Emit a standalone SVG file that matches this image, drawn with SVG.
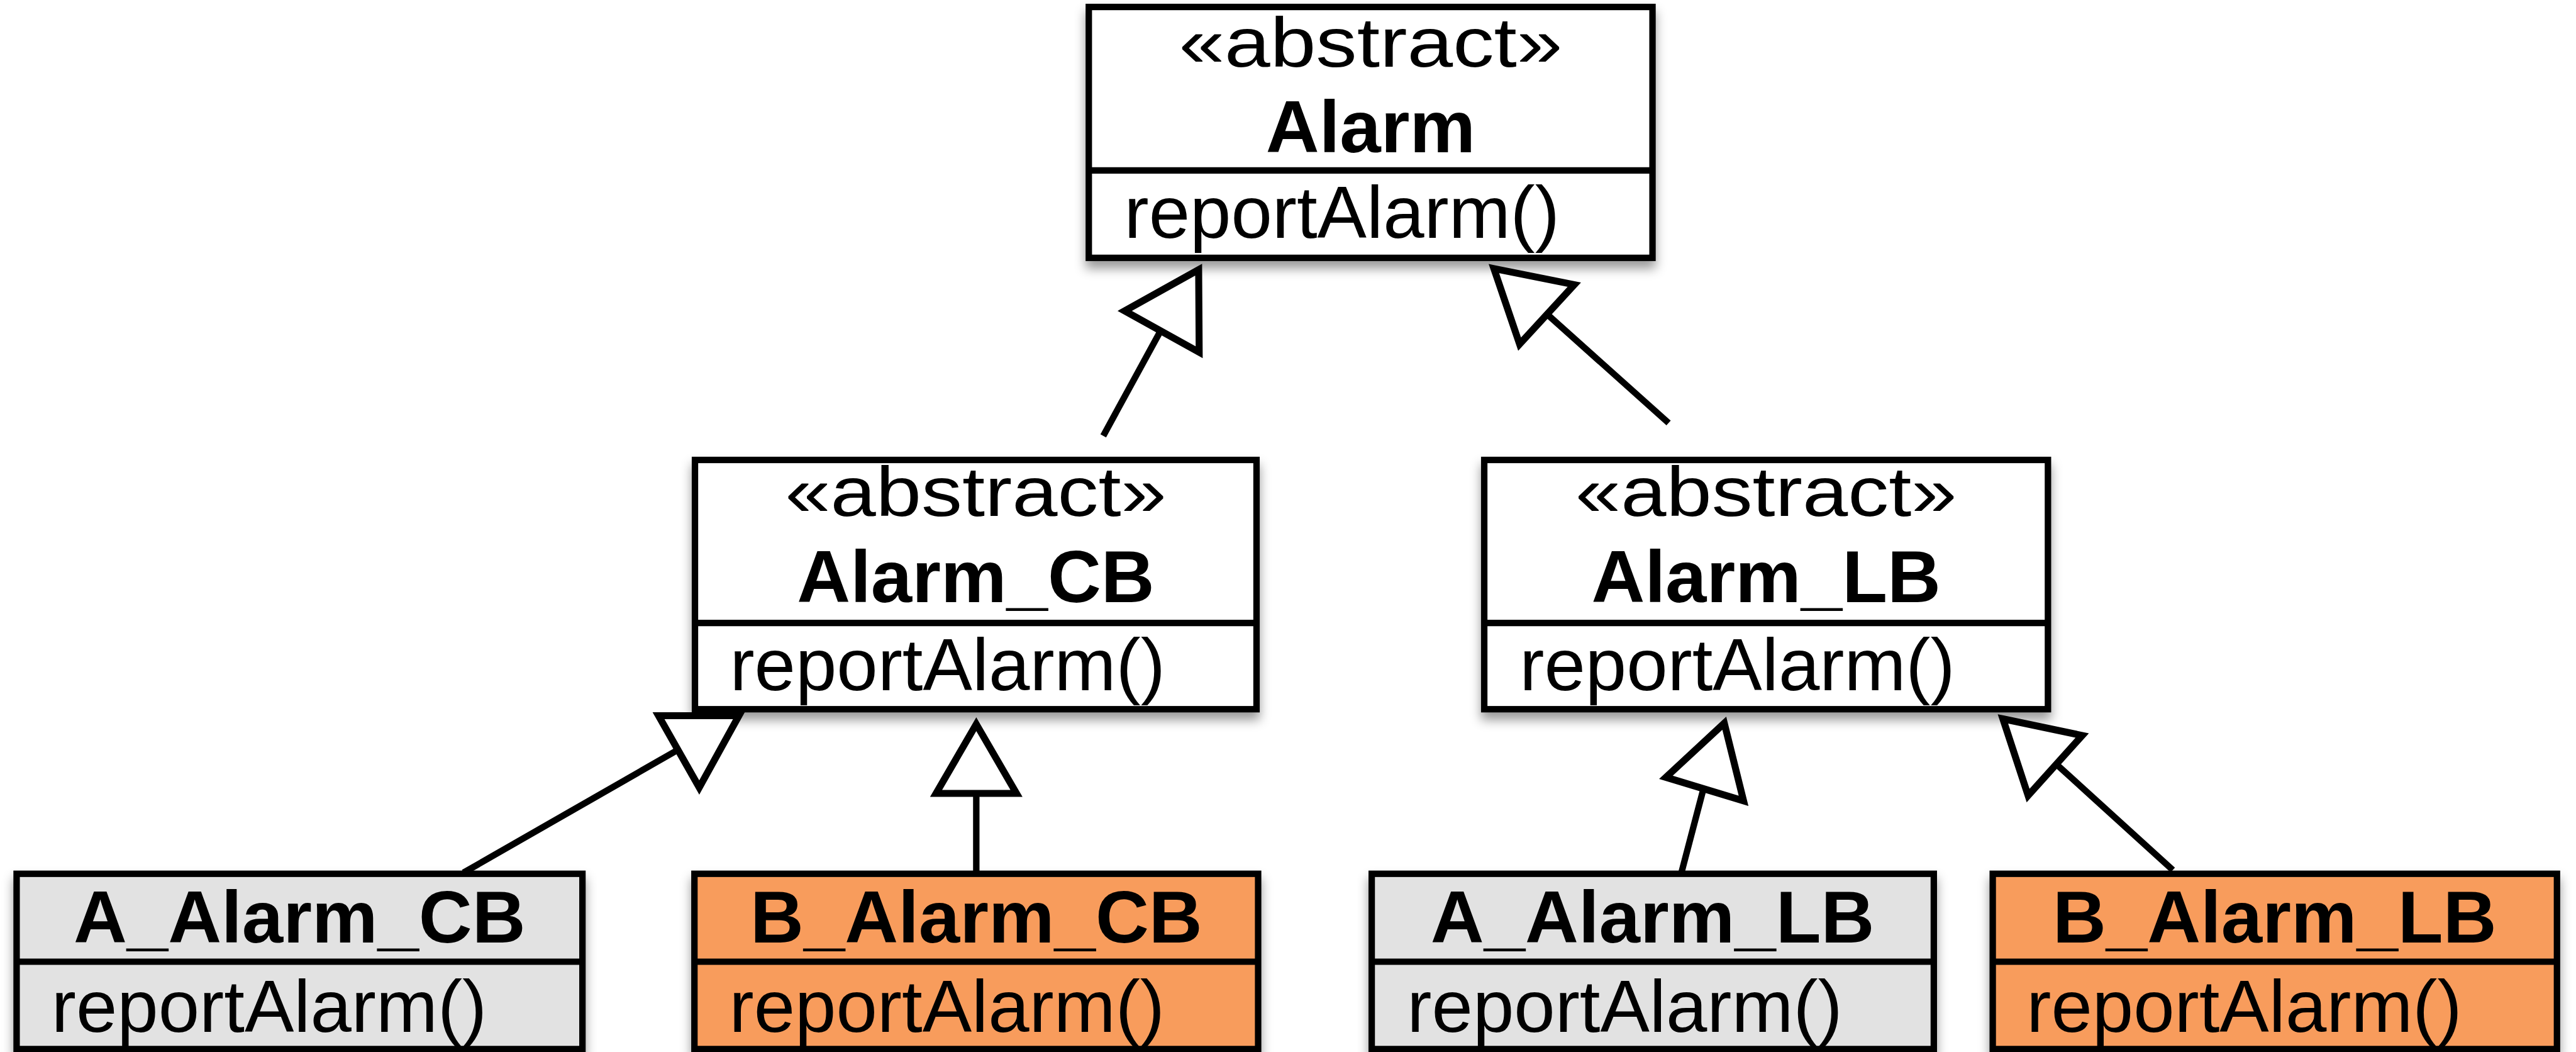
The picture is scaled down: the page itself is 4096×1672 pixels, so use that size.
<svg xmlns="http://www.w3.org/2000/svg" width="4096" height="1672" viewBox="0 0 4096 1672">
<defs>
<filter id="sh" x="-10%" y="-10%" width="120%" height="130%">
<feDropShadow dx="0" dy="14" stdDeviation="10" flood-color="#000" flood-opacity="0.4"/>
</filter>
<style>
.box{stroke:#000;stroke-width:12}
.dv{stroke:#000;stroke-width:12}
.w{fill:#fff}
.g{fill:#e2e2e2}
.o{fill:#f89c5c}
.st{font-family:"Liberation Sans",Arial,sans-serif;font-size:130px;text-anchor:middle;fill:#000}
.nm{font-family:"Liberation Sans",Arial,sans-serif;font-size:138px;font-weight:bold;text-anchor:middle;fill:#000}
.op{font-family:"Liberation Sans",Arial,sans-serif;font-size:138px;fill:#000}
.conn line{stroke:#000;stroke-width:12}
.conn polygon{fill:#fff;stroke:#000;stroke-width:13;stroke-linejoin:miter}
</style>
</defs>
<rect width="4096" height="1672" fill="#fff"/>
<g transform="scale(0.852)">
<g id="Alarm">
<rect class="box w" x="2032" y="13" width="1052" height="468" filter="url(#sh)"/>
<line class="dv" x1="2032" y1="318" x2="3084" y2="318"/>
<text class="st" x="2558" y="124" textLength="716" lengthAdjust="spacingAndGlyphs">«abstract»</text>
<text class="nm" x="2558" y="284">Alarm</text>
<text class="op" x="2098" y="444">reportAlarm()</text>
</g>
<g id="Alarm_CB">
<rect class="box w" x="1297" y="858" width="1048" height="465" filter="url(#sh)"/>
<line class="dv" x1="1297" y1="1162" x2="2345" y2="1162"/>
<text class="st" x="1821" y="963" textLength="712" lengthAdjust="spacingAndGlyphs">«abstract»</text>
<text class="nm" x="1821" y="1123">Alarm_CB</text>
<text class="op" x="1362" y="1288">reportAlarm()</text>
</g>
<g id="Alarm_LB">
<rect class="box w" x="2770" y="858" width="1052" height="465" filter="url(#sh)"/>
<line class="dv" x1="2770" y1="1162" x2="3822" y2="1162"/>
<text class="st" x="3296" y="963" textLength="712" lengthAdjust="spacingAndGlyphs">«abstract»</text>
<text class="nm" x="3296" y="1123">Alarm_LB</text>
<text class="op" x="2836" y="1288">reportAlarm()</text>
</g>
<g id="A_Alarm_CB">
<rect class="box g" x="31" y="1630" width="1056" height="327" filter="url(#sh)"/>
<line class="dv" x1="31" y1="1794" x2="1087" y2="1794"/>
<text class="nm" x="559" y="1758">A_Alarm_CB</text>
<text class="op" x="96" y="1925">reportAlarm()</text>
</g>
<g id="B_Alarm_CB">
<rect class="box o" x="1296" y="1630" width="1052" height="327" filter="url(#sh)"/>
<line class="dv" x1="1296" y1="1794" x2="2348" y2="1794"/>
<text class="nm" x="1822" y="1758">B_Alarm_CB</text>
<text class="op" x="1361" y="1925">reportAlarm()</text>
</g>
<g id="A_Alarm_LB">
<rect class="box g" x="2560" y="1630" width="1049" height="327" filter="url(#sh)"/>
<line class="dv" x1="2560" y1="1794" x2="3609" y2="1794"/>
<text class="nm" x="3084" y="1758">A_Alarm_LB</text>
<text class="op" x="2626" y="1925">reportAlarm()</text>
</g>
<g id="B_Alarm_LB">
<rect class="box o" x="3719" y="1630" width="1053" height="327" filter="url(#sh)"/>
<line class="dv" x1="3719" y1="1794" x2="4772" y2="1794"/>
<text class="nm" x="4245" y="1758">B_Alarm_LB</text>
<text class="op" x="3782" y="1925">reportAlarm()</text>
</g>
<g id="connectors" class="conn">
<line x1="2059" y1="813" x2="2166" y2="617"/>
<polygon points="2237,503 2099,580 2238,657"/>
<line x1="3114" y1="789" x2="2886" y2="585"/>
<polygon points="2788,501 2938,531 2836,642"/>
<line x1="865" y1="1628" x2="1270" y2="1396"/>
<polygon points="1229,1335 1379,1335 1305,1469"/>
<line x1="1822" y1="1630" x2="1822" y2="1475"/>
<polygon points="1822,1351 1897,1480 1747,1480"/>
<line x1="3138" y1="1628" x2="3180" y2="1468"/>
<polygon points="3218,1349 3109,1450 3254,1494"/>
<line x1="4055" y1="1623" x2="3836" y2="1424"/>
<polygon points="3738,1341 3886,1372 3785,1484"/>
</g>
</g>
</svg>
